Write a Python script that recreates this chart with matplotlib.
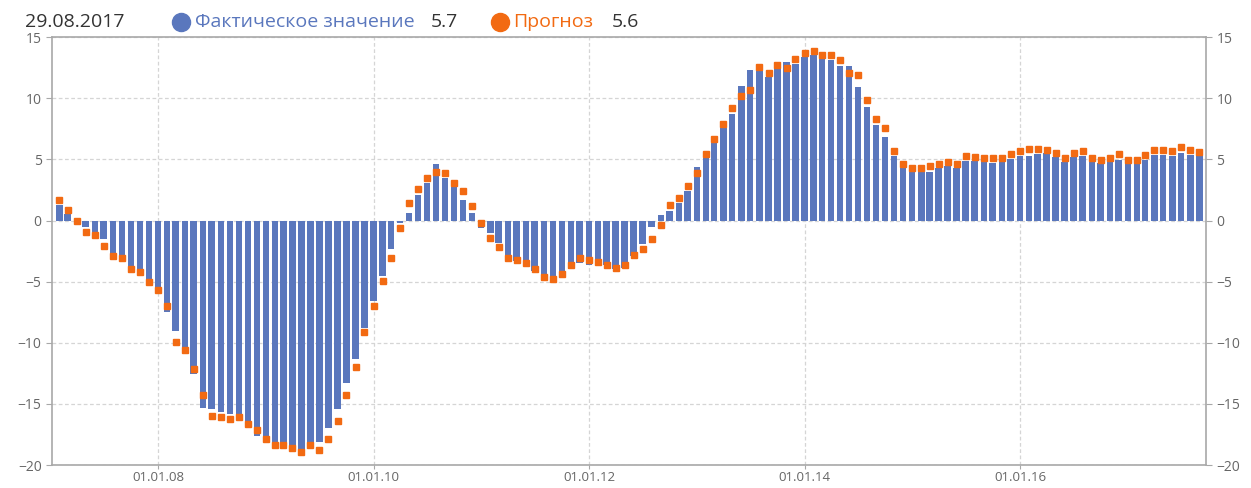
import matplotlib
matplotlib.use("Agg")
import matplotlib.pyplot as plt
import matplotlib.dates as mdates
from matplotlib.lines import Line2D
import pandas as pd

# monthly values, end of month, Jan 2007 .. Aug 2017
actual = [
    1.3, 0.5, 0.1, -0.5, -0.9, -1.5, -2.8, -3.0, -3.9, -4.1, -4.9, -5.6,
    -7.5, -9.0, -10.4, -12.55, -15.3, -15.4, -15.7, -15.8, -16.0, -16.6, -17.6, -18.1,
    -18.4, -18.4, -18.75, -18.8, -18.5, -18.1, -17.0, -15.4, -13.3, -11.3, -8.8, -6.6,
    -4.5, -2.3, -0.2, 0.65, 2.1, 3.1, 4.65, 3.5, 2.7, 1.7, 0.6, -0.6,
    -1.0, -1.8, -3.3, -3.3, -3.6, -4.1, -4.8, -4.95, -4.25, -4.0, -3.45, -3.6,
    -3.45, -3.6, -4.0, -3.85, -2.9, -1.95, -0.55, 0.45, 0.8, 1.45, 2.4, 4.35,
    5.1, 6.3, 7.55, 8.75, 11.0, 12.3, 12.2, 11.7, 12.45, 13.0, 12.8, 13.4,
    13.5, 13.2, 13.1, 12.65, 12.6, 10.9, 9.3, 7.8, 6.8, 5.3, 4.3, 4.0,
    4.0, 4.0, 4.3, 4.45, 4.3, 4.85, 4.85, 4.8, 4.7, 4.8, 5.0, 5.3,
    5.3, 5.4, 5.5, 5.2, 4.8, 5.2, 5.3, 4.8, 4.7, 4.8, 4.95, 4.7,
    4.7, 4.95, 5.35, 5.35, 5.3, 5.5, 5.35, 5.4,
]
forecast = [
    1.65, 0.9, 0.0, -0.95, -1.2, -2.05, -2.9, -3.1, -4.0, -4.2, -5.0, -5.65,
    -7.0, -9.9, -10.55, -12.15, -14.3, -16.0, -16.1, -16.2, -16.1, -16.65, -17.1, -17.9,
    -18.4, -18.35, -18.6, -18.95, -18.4, -18.8, -17.9, -16.4, -14.3, -11.95, -9.1, -7.0,
    -4.95, -3.05, -0.6, 1.45, 2.55, 3.5, 3.95, 3.85, 3.1, 2.4, 1.2, -0.2,
    -1.4, -2.2, -3.1, -3.2, -3.45, -3.95, -4.6, -4.75, -4.4, -3.65, -3.1, -3.25,
    -3.4, -3.65, -3.85, -3.6, -2.8, -2.35, -1.5, -0.35, 1.25, 1.8, 2.85, 3.9,
    5.45, 6.65, 7.9, 9.2, 10.2, 10.7, 12.55, 12.1, 12.75, 12.5, 13.2, 13.7,
    13.9, 13.5, 13.5, 13.1, 12.1, 11.9, 9.85, 8.3, 7.55, 5.7, 4.65, 4.3,
    4.3, 4.45, 4.6, 4.8, 4.6, 5.3, 5.2, 5.15, 5.15, 5.15, 5.4, 5.7,
    5.85, 5.85, 5.8, 5.55, 5.15, 5.5, 5.65, 5.1, 4.95, 5.1, 5.45, 4.95,
    4.95, 5.35, 5.75, 5.75, 5.7, 6.0, 5.8, 5.6,
]
dates = pd.date_range("2007-02-01", periods=len(actual), freq="MS") - pd.Timedelta(days=1)

tick_dates = ["2008-01-01", "2010-01-01", "2012-01-01", "2014-01-01", "2016-01-01"]
yticks = [-20, -15, -10, -5, 0, 5, 10, 15]

header_date = "29.08.2017"
actual_label = "Фактическое значение"
forecast_label = "Прогноз"
actual_last = "5.7"
forecast_last = "5.6"

BLUE = "#5a77bd"
ORANGE = "#f26a12"
GRID = "#d5d5d5"
AXIS = "#a8a8a8"
TXT = "#666666"

plt.rcParams["font.family"] = ["Open Sans", "DejaVu Sans"]

fig = plt.figure(figsize=(12.51, 4.88), dpi=100)
ax = fig.add_axes([0.0416, 0.047, 0.9224, 0.877])

ax.bar(dates, actual, width=22, color=BLUE, zorder=2)
ax.plot(dates, forecast, linestyle="none", marker="s", ms=4.8, color=ORANGE, zorder=3)

ax.set_ylim(-20, 15)
ax.set_yticks(yticks)
ax.set_xlim(pd.Timestamp("2007-01-06"), pd.Timestamp("2017-09-22"))
ax.set_xticks(pd.to_datetime(tick_dates))
ax.xaxis.set_major_formatter(mdates.DateFormatter("%d.%m.%y"))

ax.grid(True, color=GRID, linestyle=(0, (3, 2)), linewidth=0.9, zorder=0)
for s in ax.spines.values():
    s.set_color(AXIS)
    s.set_linewidth(1.2)
ax.tick_params(axis="y", which="both", left=True, right=True, labelleft=True,
               labelright=True, colors=AXIS, labelcolor=TXT, labelsize=10, length=4)
ax.tick_params(axis="x", colors=AXIS, labelcolor=TXT, labelsize=9.5, length=3, pad=1.5)

# header line with legend values
y_h = 0.955
fs = 14
fig.text(25 / 1251, y_h, header_date, fontsize=fs, color="#333333", va="center")
fig.add_artist(Line2D([181 / 1251], [y_h], marker="o", ms=13, color=BLUE,
                      transform=fig.transFigure))
fig.text(195 / 1251, y_h, actual_label, fontsize=fs, color=BLUE, va="center")
fig.text(431 / 1251, y_h, actual_last, fontsize=fs, color="#333333", va="center")
fig.add_artist(Line2D([500 / 1251], [y_h], marker="o", ms=13, color=ORANGE,
                      transform=fig.transFigure))
fig.text(513 / 1251, y_h, forecast_label, fontsize=fs, color=ORANGE, va="center")
fig.text(612 / 1251, y_h, forecast_last, fontsize=fs, color="#333333", va="center")

fig.savefig("out.png", dpi=100)
